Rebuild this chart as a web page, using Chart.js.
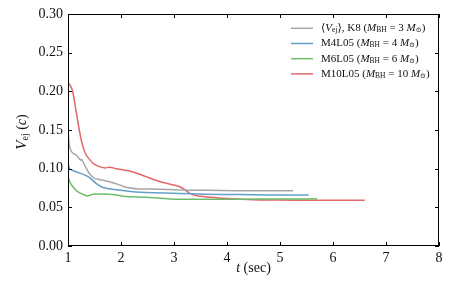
<!DOCTYPE html>
<html><head><meta charset="utf-8">
<script src="https://cdn.jsdelivr.net/npm/chart.js@4/dist/chart.umd.min.js"></script>
<style>html,body{margin:0;padding:0;background:#fff}#wrap{width:463px;height:290px}</style>
</head><body><div id="wrap"><canvas id="c" width="463" height="290"></canvas></div>
<script>
// ---- data ----
const k8T  = [1.00,1.02,1.05,1.09,1.15,1.21,1.24,1.26,1.31,1.40,1.50,1.65,1.78,1.97,2.09,2.35,2.70,3.10,3.60,4.20,4.80,5.25];
const k8V  = [0.150,0.133,0.124,0.120,0.118,0.113,0.111,0.112,0.105,0.094,0.0875,0.0853,0.083,0.079,0.076,0.0737,0.0735,0.0724,0.072,0.0716,0.0715,0.0715];
const m4T  = [1.00,1.03,1.08,1.15,1.28,1.40,1.53,1.65,1.84,2.22,2.60,3.10,3.60,4.20,4.80,5.54];
const m4V  = [0.106,0.100,0.098,0.096,0.093,0.0888,0.081,0.076,0.0733,0.0703,0.069,0.068,0.067,0.0665,0.066,0.066];
const m6T  = [1.00,1.04,1.09,1.18,1.31,1.37,1.47,1.78,1.91,2.09,2.47,2.75,2.99,3.50,4.00,4.60,5.20,5.70];
const m6V  = [0.090,0.082,0.077,0.0703,0.066,0.0647,0.067,0.067,0.066,0.064,0.063,0.0617,0.0604,0.0604,0.0605,0.0607,0.0608,0.061];
const m10T = [1.00,1.04,1.09,1.18,1.25,1.34,1.47,1.59,1.70,1.78,1.91,2.22,2.47,2.74,2.99,3.11,3.20,3.30,3.43,3.70,3.92,4.62,5.30,6.00,6.60];
const m10V = [0.211,0.208,0.1996,0.163,0.137,0.118,0.107,0.1026,0.101,0.1017,0.100,0.096,0.0897,0.083,0.079,0.0767,0.073,0.068,0.065,0.063,0.0617,0.0595,0.0593,0.0592,0.059];
const xTicks = [1,2,3,4,5,6,7,8];
const yTicks = [0.00,0.05,0.10,0.15,0.20,0.25,0.30];
const seriesNames = ['K8','M4L05','M6L05','M10L05'];
const bhMass = ['3','4','6','10'];

const colors = ['#a6a6a6','#62a0ca','#6bbd6b','#e26768'];
const SERIF = '"Liberation Serif","DejaVu Serif",serif';
const TXT = '#111';

function pts(t,v){return t.map((x,i)=>({x:x,y:v[i]}));}

function rich(ctx, segs, x, y, align){
  let w=0;
  segs.forEach(s=>{ctx.font=(s.italic?'italic ':'')+s.size+'px '+SERIF; s.w=ctx.measureText(s.t).width; w+=s.w;});
  let cx = align==='center'? x-w/2 : x;
  ctx.textBaseline='middle'; ctx.textAlign='left';
  segs.forEach(s=>{ctx.font=(s.italic?'italic ':'')+s.size+'px '+SERIF; ctx.fillText(s.t,cx,y+(s.dy||0)); cx+=s.w;});
}

const framePlugin = {
  id:'frame',
  afterDraw(chart){
    const ctx=chart.ctx, a=chart.chartArea, xs=chart.scales.x, ys=chart.scales.y;
    ctx.save();
    ctx.strokeStyle='#000'; ctx.lineWidth=1;
    ctx.strokeRect(Math.round(a.left)+0.5,Math.round(a.top)+0.5,Math.round(a.right-a.left)-1,Math.round(a.bottom-a.top)-1);
    const L=4;
    ctx.beginPath();
    xTicks.forEach(t=>{const px=Math.round(xs.getPixelForValue(t))+0.5;
      ctx.moveTo(px,a.bottom);ctx.lineTo(px,a.bottom-L);ctx.moveTo(px,a.top);ctx.lineTo(px,a.top+L);});
    yTicks.forEach(v=>{const py=Math.round(ys.getPixelForValue(v))+0.5;
      ctx.moveTo(a.left,py);ctx.lineTo(a.left+L,py);ctx.moveTo(a.right,py);ctx.lineTo(a.right-L,py);});
    ctx.stroke();
    ctx.fillStyle=TXT;
    // x title
    rich(ctx,[{t:'t',size:14,italic:true},{t:' (sec)',size:14}], (a.left+a.right)/2, 268,'center');
    // y title
    ctx.save(); ctx.translate(22,(a.top+a.bottom)/2+2); ctx.rotate(-Math.PI/2);
    rich(ctx,[{t:'V',size:15,italic:true},{t:'ej',size:10,dy:3},{t:' (',size:14},{t:'c',size:14,italic:true},{t:')',size:14}],0,0,'center');
    ctx.restore();
    // legend
    const lx0=291,lx1=313,tx=321,ys0=28.3,dy=15.2;
    seriesNames.forEach((n,i)=>{
      const yy=ys0+i*dy;
      ctx.strokeStyle=colors[i]; ctx.lineWidth=1.5;
      ctx.beginPath();ctx.moveTo(lx0,yy);ctx.lineTo(lx1,yy);ctx.stroke();
      ctx.fillStyle=TXT;
      const segs=[];
      if(i===0){segs.push({t:'\u27E8',size:11},{t:'V',size:11,italic:true},{t:'ej',size:7.5,dy:2},{t:'\u27E9, K8 (',size:11});}
      else segs.push({t:n+' (',size:11});
      segs.push({t:'M',size:11,italic:true},{t:'BH',size:7.5,dy:2},{t:' = '+bhMass[i]+' ',size:11},{t:'M',size:11,italic:true},{t:'\u2299',size:7,dy:2},{t:')',size:11});
      rich(ctx,segs,tx,yy,'left');
    });
    ctx.restore();
  }
};

const mk=(label,t,v,c)=>({label:label,data:pts(t,v),borderColor:c,backgroundColor:c,borderWidth:1.5,pointRadius:0,tension:0.15,fill:false});

new Chart(document.getElementById('c'),{
  type:'line',
  data:{datasets:[
    mk('K8',k8T,k8V,colors[0]),
    mk('M4L05',m4T,m4V,colors[1]),
    mk('M6L05',m6T,m6V,colors[2]),
    mk('M10L05',m10T,m10V,colors[3])
  ]},
  options:{
    responsive:false, animation:false,
    layout:{padding:{left:0,right:24,top:14,bottom:0}},
    plugins:{legend:{display:false},tooltip:{enabled:false}},
    scales:{
      x:{type:'linear',min:1,max:8,
        afterBuildTicks(s){s.ticks=xTicks.map(v=>({value:v}));},
        afterFit(s){s.height=44;},
        grid:{display:false,drawTicks:false},border:{display:false},
        ticks:{padding:4,color:TXT,font:{family:SERIF,size:14},maxRotation:0,callback:v=>String(v)}},
      y:{min:0,max:0.3,
        afterBuildTicks(s){s.ticks=yTicks.map(v=>({value:v}));},
        afterFit(s){s.width=68;},
        grid:{display:false,drawTicks:false},border:{display:false},
        ticks:{padding:5,color:TXT,font:{family:SERIF,size:14},callback:v=>v.toFixed(2)}}
    }
  },
  plugins:[framePlugin]
});
</script></body></html>
